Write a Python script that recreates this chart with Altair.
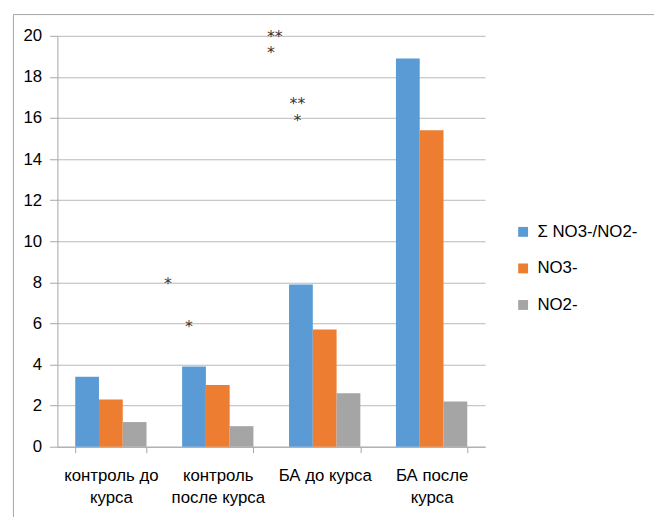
import altair as alt
import pandas as pd

categories = ["контроль до\nкурса", "контроль\nпосле курса", "БА до курса", "БА после\nкурса"]
series = ["Σ NO3-/NO2-", "NO3-", "NO2-"]
sum_vals = [3.4, 3.9, 7.9, 18.9]
no3_vals = [2.3, 3.0, 5.7, 15.4]
no2_vals = [1.2, 1.0, 2.6, 2.2]
colors = ["#5B9BD5", "#ED7D31", "#A5A5A5"]

# significance marks: text, x position (in category units), y value, alignment
note_text = ["*", "*", "**\n*", "**\n*"]
note_x = [1.035, 1.23, 1.96, 2.245]
note_y = [8.1, 6.0, 20.15, 16.85]
note_align = ["center", "center", "left", "center"]

rows = []
for vals, s in zip([sum_vals, no3_vals, no2_vals], series):
    for c, v in zip(categories, vals):
        rows.append({"cat": c, "series": s, "value": v})
df = pd.DataFrame(rows)
notes = pd.DataFrame({"t": note_text, "x": note_x, "y": note_y, "al": note_align})

W, H = 433, 416
FONT = "Liberation Sans"
FS = 17

yaxis = alt.Axis(values=list(range(0, 21, 2)), tickSize=8, tickColor="#a6a6a6",
                 domainColor="#a6a6a6", gridColor="#b8b8b8",
                 labelFontSize=FS, labelFont=FONT, labelColor="#000000",
                 labelPadding=8, title=None)

bars = alt.Chart(df).mark_bar().encode(
    x=alt.X("cat:N", sort=categories, title=None,
            scale=alt.Scale(paddingInner=0.333, paddingOuter=0.1667),
            axis=alt.Axis(labelAngle=0, labelExpr="split(datum.label, '\\n')",
                          tickBand="extent", tickSize=6, tickColor="#a6a6a6",
                          domainColor="#a6a6a6", labelFontSize=FS, labelFont=FONT,
                          labelColor="#000000", labelPadding=15, labelLineHeight=22,
                          grid=False)),
    xOffset=alt.XOffset("series:N", sort=series),
    y=alt.Y("value:Q", title=None,
            scale=alt.Scale(domain=[0, 20], nice=False),
            axis=yaxis),
    color=alt.Color("series:N", sort=series,
                    scale=alt.Scale(domain=series, range=colors),
                    legend=alt.Legend(title=None, orient="none", legendX=463, legendY=190,
                                      symbolType="square", symbolSize=100,
                                      symbolStrokeWidth=0,
                                      labelFontSize=FS, labelFont=FONT, labelColor="#000000",
                                      rowPadding=19, labelOffset=6)),
)

base_stars = alt.Chart(notes).encode(
    x=alt.X("x:Q", scale=alt.Scale(domain=[0, 4], nice=False, zero=False), axis=None),
    y=alt.Y("y:Q", title=None, scale=alt.Scale(domain=[0, 20], nice=False), axis=yaxis),
    text="t:N",
)

star_style = dict(font="DejaVu Sans", fontSize=16, color="#333333", baseline="middle",
                  dy=4, lineBreak="\n", lineHeight=17)
stars_left = base_stars.transform_filter("datum.al == 'left'").mark_text(align="left", **star_style)
stars_center = base_stars.transform_filter("datum.al == 'center'").mark_text(align="center", **star_style)

border = alt.Chart(pd.DataFrame({"a": [0]})).mark_rect(
    fill=None, fillOpacity=0, stroke="#a6a6a6", strokeWidth=1).encode(
    x=alt.value(-44.5), x2=alt.value(700), y=alt.value(-21.5), y2=alt.value(600))

chart = alt.layer(bars, stars_left, stars_center, border).resolve_scale(
    x="independent"
).properties(
    width=W, height=H,
    padding={"left": 50, "top": 25, "right": 171, "bottom": 68},
    autosize=alt.AutoSizeParams(type="none"),
    background="white",
).configure_view(stroke=None)

chart.save("out.html", embed_options={"renderer": "svg", "actions": False})
